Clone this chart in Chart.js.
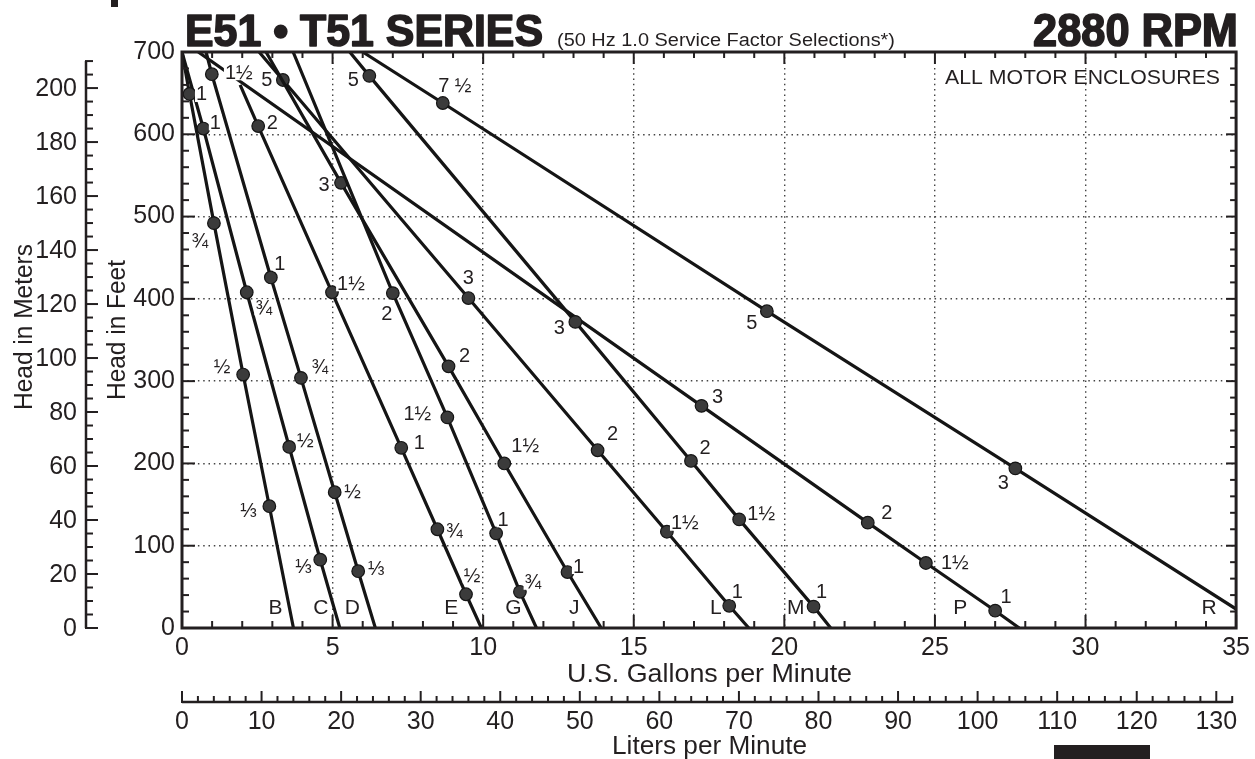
<!DOCTYPE html>
<html>
<head>
<meta charset="utf-8">
<title>E51 T51 Series pump curves</title>
<script src="https://cdn.jsdelivr.net/npm/chart.js@4.4.0/dist/chart.umd.min.js"></script>
<style>
  html, body { margin: 0; padding: 0; background: #fff; }
  #wrap { width: 1255px; height: 759px; }
</style>
</head>
<body>
<div id="wrap"><canvas id="pumpChart" width="1255" height="759"></canvas></div>
<script>
// E51 / T51 series selection chart, 2880 RPM
// flow in U.S. gpm, head in feet, motor hp at each marked point ('' = no dot)

const curveNames = ['B', 'C', 'D', 'E', 'G', 'J', 'L', 'M', 'P', 'R'];

const gpmB = [0, 0.25, 1.06, 2.03, 2.9, 3.7];
const ftB  = [700, 649, 492, 308, 148, 0];
const hpB  = ['', '1', '¾', '½', '⅓', ''];

const gpmC = [0, 0.71, 2.15, 3.56, 4.59, 5.24];
const ftC  = [700, 607, 408, 220, 83, 0];
const hpC  = ['', '1', '¾', '½', '⅓', ''];

const gpmD = [0.8, 0.99, 2.95, 3.95, 5.07, 5.85, 6.42];
const ftD  = [700, 673, 426, 304, 165, 69, 0];
const hpD  = ['', '1½', '1', '¾', '½', '⅓', ''];

const gpmE = [1.93, 2.53, 4.98, 7.28, 8.48, 9.43, 9.94];
const ftE  = [660, 610, 408, 219, 120, 41, 0];
const hpE  = ['', '2', '1½', '1', '¾', '½', ''];

const gpmG = [3.69, 7.0, 8.81, 10.43, 11.22, 11.77];
const ftG  = [700, 407, 256, 115, 44, 0];
const hpG  = ['', '2', '1½', '1', '¾', ''];

const gpmJ = [2.79, 5.28, 8.85, 10.7, 12.8, 13.92];
const ftJ  = [700, 541, 318, 200, 68, 0];
const hpJ  = ['', '3', '2', '1½', '1', ''];

const gpmL = [2.56, 3.35, 9.51, 13.8, 16.1, 18.17, 18.82];
const ftL  = [700, 666, 401, 216, 117, 27, 0];
const hpL  = ['', '5', '3', '2', '1½', '1', ''];

const gpmM = [5.57, 6.22, 13.06, 16.9, 18.5, 20.97, 21.54];
const ftM  = [700, 671, 372, 203, 132, 26, 0];
const hpM  = ['', '5', '3', '2', '1½', '1', ''];

const gpmP = [0.54, 17.25, 22.77, 24.7, 27.0, 27.8];
const ftP  = [700, 270, 128, 79, 21, 0];
const hpP  = ['', '3', '2', '1½', '1', ''];

const gpmR = [6.0, 8.66, 19.42, 27.67, 35];
const ftR  = [700, 638, 385, 194, 23];
const hpR  = ['', '7 ½', '5', '3', ''];

// axis ranges and ticks
const gpmTicks = [0, 5, 10, 15, 20, 25, 30, 35];
const feetTicks = [0, 100, 200, 300, 400, 500, 600, 700];
const meterTicks = [0, 20, 40, 60, 80, 100, 120, 140, 160, 180, 200];
const literTicks = [0, 10, 20, 30, 40, 50, 60, 70, 80, 90, 100, 110, 120, 130];

const FT_PER_M = 3.28084;
const L_PER_GAL = 3.78541;

const gpmList = [gpmB, gpmC, gpmD, gpmE, gpmG, gpmJ, gpmL, gpmM, gpmP, gpmR];
const ftList = [ftB, ftC, ftD, ftE, ftG, ftJ, ftL, ftM, ftP, ftR];
const hpList = [hpB, hpC, hpD, hpE, hpG, hpJ, hpL, hpM, hpP, hpR];

// where each hp label sits relative to its dot (px), in dot order
const hpLabelOffsets = [
    [[12, 0], [-14, 17], [-21, -8], [-21, 4]],
    [[12, -6], [17, 15], [16, -6], [-17, 7]],
    [[27, -2], [9, -14], [19, -11], [18, -1], [18, -3]],
    [[14, -4], [19, -9], [18, -5], [17, 1], [6, -19]],
    [[-6, 20], [-30, -4], [7, -14], [13, -10]],
    [[-17, 2], [16, -11], [21, -18], [11, -6]],
    [[-16, 0], [0, -21], [15, -17], [18, -9], [8, -14]],
    [[-16, 4], [-16, 6], [14, -13], [22, -6], [8, -15]],
    [[16, -9], [19, -10], [29, -1], [11, -14]],
    [[12, -18], [-15, 11], [-12, 14]]
];
// curve letters sit left of where each curve meets the bottom
const letterOffsets = [-18, -19, -23, -30, -23, -27, -33, -35, -59, -27];

const INK = '#231f20';
const FONT = "'Liberation Sans', Arial, Helvetica, sans-serif";

Chart.defaults.font.family = FONT;
Chart.defaults.color = INK;

function strokeLine(ctx, x1, y1, x2, y2) {
    ctx.beginPath();
    ctx.moveTo(x1, y1);
    ctx.lineTo(x2, y2);
    ctx.stroke();
}

// draw text squeezed/stretched to a given width, optionally thickened
function fitText(ctx, str, left, baseline, width, font, heavy) {
    ctx.font = font;
    const w = ctx.measureText(str).width;
    ctx.save();
    ctx.translate(left, baseline);
    ctx.scale(width / w, 1);
    ctx.textAlign = 'left';
    ctx.textBaseline = 'alphabetic';
    ctx.fillText(str, 0, 0);
    if (heavy) {
        ctx.lineWidth = heavy;
        ctx.lineJoin = 'round';
        ctx.strokeText(str, 0, 0);
    }
    ctx.restore();
}

const decorPlugin = {
    id: 'decor',
    afterDatasetsDraw(chart) {
        const ctx = chart.ctx;
        const a = chart.chartArea;
        const x = chart.scales.x;
        const y = chart.scales.y;
        ctx.save();
        ctx.fillStyle = INK;
        ctx.strokeStyle = INK;

        // hp labels next to the dots
        ctx.font = '20px ' + FONT;
        ctx.textAlign = 'center';
        ctx.textBaseline = 'middle';
        chart.data.datasets.forEach((ds, k) => {
            const meta = chart.getDatasetMeta(k);
            let n = 0;
            hpList[k].forEach((hp, i) => {
                if (!hp) return;
                const pt = meta.data[i];
                const off = hpLabelOffsets[k][n++] || [12, -8];
                const lx = pt.x + off[0];
                const ly = pt.y + off[1];
                const w = ctx.measureText(hp).width;
                ctx.fillStyle = '#fff';
                ctx.fillRect(lx - w / 2 - 1, ly - 8, w + 2, 16);
                ctx.fillStyle = INK;
                ctx.fillText(hp, lx, ly + 1);
            });
        });

        // curve letters along the bottom
        ctx.font = '21px ' + FONT;
        curveNames.forEach((name, k) => {
            const g = gpmList[k];
            const px = x.getPixelForValue(g[g.length - 1]) + letterOffsets[k];
            ctx.fillText(name, px, a.bottom - 20);
        });

        // frame
        ctx.lineWidth = 3;
        ctx.strokeRect(a.left, a.top, a.right - a.left, a.bottom - a.top);

        // inward ticks on all four sides
        ctx.lineWidth = 2;
        for (let g = 0; g <= 35; g++) {
            const px = x.getPixelForValue(g);
            const major = g % 5 === 0;
            strokeLine(ctx, px, a.bottom, px, a.bottom - (major ? 13 : 7));
            strokeLine(ctx, px, a.top, px, a.top + (major ? 12 : 6));
        }
        for (let f = 0; f <= 700; f += 20) {
            const py = y.getPixelForValue(f);
            const major = f % 100 === 0;
            strokeLine(ctx, a.left, py, a.left + (major ? 13 : 7), py);
            strokeLine(ctx, a.right, py, a.right - (major ? 10 : 6), py);
        }

        // meters axis
        const mx = 86;
        ctx.lineWidth = 2.5;
        strokeLine(ctx, mx, y.getPixelForValue(0), mx, y.getPixelForValue(210 * FT_PER_M));
        ctx.lineWidth = 2;
        for (let m = 0; m <= 210; m += 5) {
            const py = y.getPixelForValue(m * FT_PER_M);
            const major = m % 20 === 0;
            strokeLine(ctx, mx - 1, py, mx + (major ? 12 : 7), py);
        }
        ctx.font = '25px ' + FONT;
        ctx.textAlign = 'right';
        meterTicks.forEach(m => {
            ctx.fillText(String(m), 77, y.getPixelForValue(m * FT_PER_M) + 1);
        });

        // liters axis
        const ly = 702;
        ctx.lineWidth = 2.5;
        strokeLine(ctx, x.getPixelForValue(0), ly, x.getPixelForValue(132 / L_PER_GAL), ly);
        ctx.lineWidth = 2;
        for (let l = 0; l <= 132; l += 2) {
            const px = x.getPixelForValue(l / L_PER_GAL);
            const major = l % 10 === 0;
            strokeLine(ctx, px, ly + 1, px, ly - (major ? 11 : 6));
        }
        ctx.textAlign = 'center';
        literTicks.forEach(l => {
            ctx.fillText(String(l), x.getPixelForValue(l / L_PER_GAL), 722);
        });

        // axis titles
        const cx = (a.left + a.right) / 2;
        fitText(ctx, 'U.S. Gallons per Minute', cx - 142, 682, 285, '26px ' + FONT);
        fitText(ctx, 'Liters per Minute', cx - 97, 754, 195, '26px ' + FONT);

        ctx.save();
        ctx.translate(125, 330);
        ctx.rotate(-Math.PI / 2);
        fitText(ctx, 'Head in Feet', -70, 0, 140, '25px ' + FONT);
        ctx.restore();
        ctx.save();
        ctx.translate(32, 327);
        ctx.rotate(-Math.PI / 2);
        fitText(ctx, 'Head in Meters', -83, 0, 166, '25px ' + FONT);
        ctx.restore();

        // headings
        fitText(ctx, 'E51 • T51 SERIES', 185, 46, 358, 'bold 44px ' + FONT, 1.6);
        fitText(ctx, '(50 Hz 1.0 Service Factor Selections*)', 557, 46, 338, '18px ' + FONT);
        fitText(ctx, '2880 RPM', 1033, 46, 205, 'bold 46px ' + FONT, 1.6);
        fitText(ctx, 'ALL MOTOR ENCLOSURES', 945, 84, 275, '20px ' + FONT);

        // cropped page bits at the edges
        ctx.fillRect(111, 0, 7, 7);
        ctx.fillRect(1054, 745, 96, 14);

        ctx.restore();
    }
};

const datasets = curveNames.map((name, k) => ({
    label: name,
    data: gpmList[k].map((g, i) => ({ x: g, y: ftList[k][i] })),
    showLine: true,
    borderColor: '#151515',
    borderWidth: 3.2,
    tension: 0,
    pointRadius: ctx => (hpList[k][ctx.dataIndex] ? 6.3 : 0),
    pointBackgroundColor: '#3b3b3b',
    pointBorderColor: '#151515',
    pointBorderWidth: 1.2
}));

const tickFont = { size: 25, family: FONT };

new Chart(document.getElementById('pumpChart'), {
    type: 'scatter',
    data: { datasets: datasets },
    options: {
        responsive: false,
        animation: false,
        events: [],
        layout: { padding: { top: 52, right: 17, left: 0, bottom: 0 } },
        plugins: {
            legend: { display: false },
            tooltip: { enabled: false }
        },
        scales: {
            x: {
                type: 'linear',
                min: 0,
                max: 35,
                afterBuildTicks: s => { s.ticks = gpmTicks.map(v => ({ value: v })); },
                ticks: { font: tickFont, color: INK, padding: 5, maxRotation: 0, autoSkip: false },
                grid: { color: '#444', lineWidth: 1.4, drawTicks: false },
                border: { display: false, dash: [1.5, 3.8] },
                afterFit: s => { s.height = 131; }
            },
            y: {
                type: 'linear',
                min: 0,
                max: 700,
                afterBuildTicks: s => { s.ticks = feetTicks.map(v => ({ value: v })); },
                ticks: { font: tickFont, color: INK, padding: 7, autoSkip: false },
                grid: { color: '#444', lineWidth: 1.4, drawTicks: false },
                border: { display: false, dash: [1.5, 3.8] },
                afterFit: s => { s.width = 182; }
            }
        }
    },
    plugins: [decorPlugin]
});
</script>
</body>
</html>
